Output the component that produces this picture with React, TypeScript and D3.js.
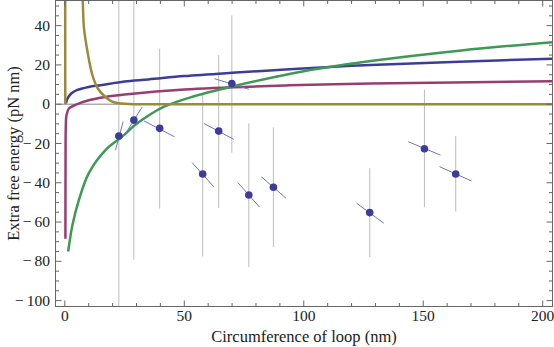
import React, { useRef, useEffect } from "react";
import * as d3 from "d3";

// measured loops: circumference (nm) vs extra free energy (pN nm)
const loopCirc = [22.6, 28.9, 39.7, 57.7, 64.4, 69.9, 77.0, 87.3, 127.6, 150.5, 163.6];
const extraEnergy = [-16.2, -8.1, -12.3, -35.5, -13.7, 10.5, -46.2, -42.3, -55.2, -22.7, -35.5];
const errLow = [-110, -79.2, -53.1, -77.5, -52.9, -24.7, -82.9, -72.7, -77.8, -52.4, -54.7];
const errHigh = [60, 60, 28.3, 4.6, 25.0, 45.2, -9.8, -11.8, -32.6, 7.5, -16.2];
// tilted (correlated) error segments
const segX0 = [21.2, 25.4, 33.1, 53.3, 58.2, 62.6, 72.4, 82.2, 122.1, 143.7, 156.8];
const segY0 = [-23.4, -14.9, -8.5, -29.8, -9.8, 13.0, -39.9, -36.9, -50.4, -19.1, -31.8];
const segX1 = [24.4, 32.4, 45.9, 62.3, 70.7, 77.0, 81.5, 92.6, 133.5, 157.2, 170.2];
const segY1 = [-8.9, -1.4, -16.6, -42.0, -17.9, 7.6, -52.4, -47.9, -60.6, -25.9, -39.1];

// model curves
const blueX = [0.5, 1, 2, 3.1, 5, 10, 15, 25, 35, 50, 70, 94, 128, 165, 204];
const blueY = [0.5, 2.5, 4.5, 5.8, 7.2, 8.8, 9.7, 11.6, 12.6, 14.3, 16, 17.8, 20, 21.6, 23.2];
const magentaX = [0.25, 0.3, 0.4, 0.7, 1.7, 4.5, 10, 17, 25, 50, 94, 128, 204];
const magentaY = [-68.5, -30, -12, -5.6, -2.2, -0.3, 2, 3.7, 4.9, 7.5, 9.6, 10.5, 11.7];
const greenX = [1.4, 2, 3.1, 5.9, 10, 17, 24, 29, 36, 42, 52.6, 70, 94, 106, 128, 166, 204];
const greenY = [-75, -70, -62, -48.7, -35.2, -23.4, -16.5, -11, -5, -1, 3.5, 9, 15.4, 18, 22, 27.4, 31.6];
const oliveX = [0.2, 0.25, 3, 6.5, 7.5, 8, 9.6, 11.5, 13.8, 17, 20, 24, 30, 60, 204];
const oliveY = [0, 80, 300, 75, 52.8, 39, 26, 15, 8, 3.7, 1.2, 0.3, 0, 0, 0];

const xMajor = [0, 50, 100, 150, 200];
const yMajor = [-100, -80, -60, -40, -20, 0, 20, 40];

const W = 554;
const H = 347;

export default function App() {
  const svgRef = useRef(null);

  useEffect(() => {
    const svg = d3.select(svgRef.current);
    svg.selectAll("*").remove();

    const x = d3.scaleLinear().domain([-3.9, 204.1]).range([55.5, 552.5]);
    const y = d3.scaleLinear().domain([-103, 52.8]).range([306.5, 0.5]);
    const [x0, x1] = x.range();
    const [y0, y1] = y.range();

    svg.append("defs").append("clipPath").attr("id", "frameClip")
      .append("rect").attr("x", x0).attr("y", y1).attr("width", x1 - x0).attr("height", y0 - y1);

    const content = svg.append("g").attr("clip-path", "url(#frameClip)");

    // zero line
    content.append("line")
      .attr("x1", x0).attr("x2", x1).attr("y1", y(0)).attr("y2", y(0))
      .attr("stroke", "#888").attr("stroke-width", 1);

    // vertical error bars
    content.selectAll(".vbar").data(loopCirc).join("line")
      .attr("x1", (d) => x(d)).attr("x2", (d) => x(d))
      .attr("y1", (d, i) => y(errLow[i])).attr("y2", (d, i) => y(errHigh[i]))
      .attr("stroke", "#bcbcbc").attr("stroke-width", 1);

    const lineGen = d3.line().curve(d3.curveCatmullRom.alpha(0.5));
    const curves = [
      { xs: blueX, ys: blueY, color: "rgb(61,61,153)" },
      { xs: magentaX, ys: magentaY, color: "rgb(153,61,113)" },
      { xs: greenX, ys: greenY, color: "rgb(61,153,84)" },
      { xs: oliveX, ys: oliveY, color: "rgb(153,139,61)" },
    ];
    curves.forEach((c) => {
      content.append("path")
        .attr("d", lineGen(c.xs.map((v, i) => [x(v), y(c.ys[i])])))
        .attr("fill", "none")
        .attr("stroke", c.color)
        .attr("stroke-width", 2.5);
    });

    // tilted error segments
    content.selectAll(".seg").data(segX0).join("line")
      .attr("x1", (d) => x(d)).attr("y1", (d, i) => y(segY0[i]))
      .attr("x2", (d, i) => x(segX1[i])).attr("y2", (d, i) => y(segY1[i]))
      .attr("stroke", "#7474c4").attr("stroke-width", 1);

    content.selectAll(".dot").data(loopCirc).join("circle")
      .attr("cx", (d) => x(d)).attr("cy", (d, i) => y(extraEnergy[i]))
      .attr("r", 3.8).attr("fill", "rgb(61,61,153)");

    // frame + ticks on all sides
    const frame = svg.append("g").attr("stroke", "#666").attr("stroke-width", 1);
    frame.append("rect").attr("x", x0).attr("y", y1).attr("width", x1 - x0).attr("height", y0 - y1)
      .attr("fill", "none");

    const xMinor = d3.range(0, 201, 10).filter((v) => !xMajor.includes(v));
    const yMinor = d3.range(-100, 51, 5).filter((v) => !yMajor.includes(v));
    const tickLines = (vals, len, horizontal) => {
      vals.forEach((v) => {
        if (horizontal) {
          frame.append("line").attr("x1", x(v)).attr("x2", x(v)).attr("y1", y0).attr("y2", y0 - len);
          frame.append("line").attr("x1", x(v)).attr("x2", x(v)).attr("y1", y1).attr("y2", y1 + len);
        } else {
          frame.append("line").attr("y1", y(v)).attr("y2", y(v)).attr("x1", x0).attr("x2", x0 + len);
          frame.append("line").attr("y1", y(v)).attr("y2", y(v)).attr("x1", x1).attr("x2", x1 - len);
        }
      });
    };
    tickLines(xMajor, 6, true);
    tickLines(xMinor, 3.5, true);
    tickLines(yMajor, 6, false);
    tickLines(yMinor, 3.5, false);

    const fmt = (v) => (v < 0 ? "\u2212\u2009" + Math.abs(v) : String(v));
    const labels = svg.append("g")
      .attr("font-family", "'Liberation Serif', 'DejaVu Serif', serif")
      .attr("fill", "#222");

    labels.selectAll(".xt").data(xMajor).join("text")
      .attr("font-size", 15.5)
      .attr("x", (d) => x(d)).attr("y", 321).attr("text-anchor", "middle").text(fmt);
    labels.selectAll(".yt").data(yMajor).join("text")
      .attr("font-size", 15.5)
      .attr("x", 50).attr("y", (d) => y(d)).attr("dy", "0.33em").attr("text-anchor", "end").text(fmt);

    labels.append("text")
      .attr("font-size", 16.5)
      .attr("x", (x0 + x1) / 2).attr("y", 342).attr("text-anchor", "middle")
      .text("Circumference of loop (nm)");
    labels.append("text")
      .attr("font-size", 16.5)
      .attr("transform", `translate(19, ${(y0 + y1) / 2}) rotate(-90)`)
      .attr("text-anchor", "middle")
      .text("Extra free energy (pN nm)");
  }, []);

  return (
    <svg
      ref={svgRef}
      width={W}
      height={H}
      style={{ position: "absolute", left: 0, top: 0, background: "#fff" }}
    />
  );
}
